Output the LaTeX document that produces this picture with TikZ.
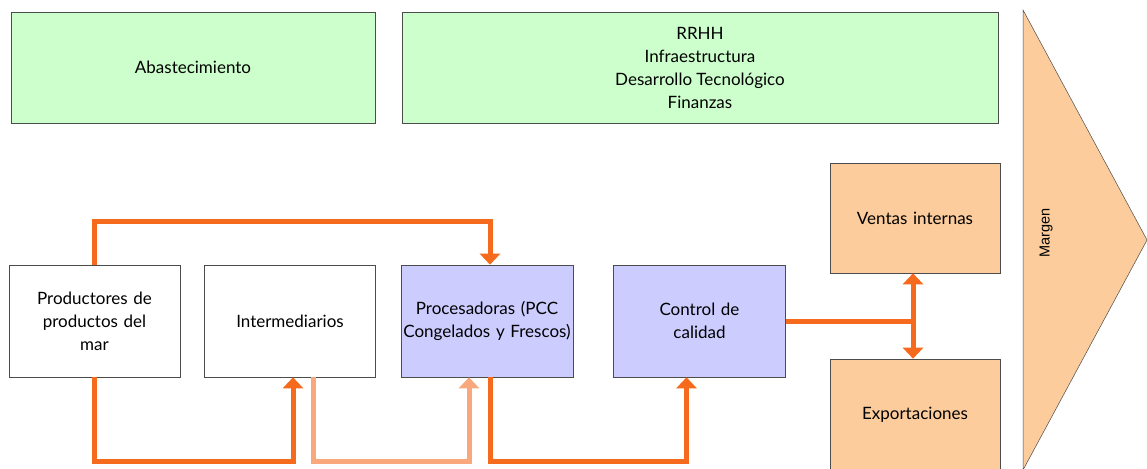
\documentclass[tikz,border=0pt]{standalone}
\usepackage{fontspec}
\setmainfont{Lato}
\newfontfamily\arialfont{Liberation Sans}
\usetikzlibrary{arrows.meta}
\definecolor{apoyo}{HTML}{CCFFCC}
\definecolor{proceso}{HTML}{CCCCFF}
\definecolor{salida}{HTML}{FCCC9C}
\definecolor{flecha}{HTML}{F56A1C}
\definecolor{flechaclara}{HTML}{F8A87C}

\tikzset{
  caja/.style={draw=gray!60!black, line width=0.6pt, align=center, inner sep=2pt,
    font=\fontsize{17}{23}\selectfont},
  apoyobox/.style={caja, fill=apoyo},
  blanca/.style={caja, fill=white, minimum width=171pt, minimum height=112pt, text width=160pt},
  procbox/.style={caja, fill=proceso, minimum width=171pt, minimum height=112pt, text width=168pt},
  salidabox/.style={caja, fill=salida, minimum width=170pt, minimum height=110pt, text width=160pt},
  flujo/.style={draw=flecha, line width=5pt, -{Triangle[width=20pt,length=11pt]}},
  flujoclaro/.style={flujo, draw=flechaclara, -{Triangle[width=20pt,length=11pt,fill=flechaclara]}}
}

\begin{document}
\begin{tikzpicture}[x=1pt,y=-1pt]
  \useasboundingbox (0,0) rectangle (1147,468);
  \fill[white] (0,0) rectangle (1147,468);
  % actividades de apoyo
  \node[apoyobox, minimum width=364pt, minimum height=111pt] (abas) at (193,67.5) {Abastecimiento};
  \node[apoyobox, minimum width=596pt, minimum height=111pt] (soporte) at (700,67.5)
    {RRHH\\Infraestructura\\Desarrollo Tecnológico\\Finanzas};
  % margen
  \draw[draw=gray!60!black, fill=salida, line width=0.5pt] (1023,10) -- (1147,240) -- (1023,470) -- cycle;
  \node[rotate=90, font=\arialfont\fontsize{14.5}{16}\selectfont] (margen) at (1046,233) {Margen};
  % cadena
  \node[blanca] (prod) at (94.5,321) {Productores de\\productos del\\mar};
  \node[blanca] (inter) at (290,321) {Intermediarios};
  \node[procbox] (proc) at (487,321) {Procesadoras (PCC\\Congelados y Frescos)};
  \node[procbox] (ctrl) at (699.5,321) {Control de\\calidad};
  \node[salidabox] (vent) at (915,218) {Ventas internas};
  \node[salidabox, minimum height=112pt] (expo) at (915,415) {Exportaciones};
  % flechas
  \draw[flujo] (prod.north) -- ++(0,-43) -| ([xshift=3pt]proc.north);
  \draw[flujo] (prod.south) -- ++(0,84) -| ([xshift=3pt]inter.south);
  \draw[flujoclaro] ([xshift=23pt]inter.south) -- ++(0,84) -| ([xshift=-18pt]proc.south);
  \draw[flujo] ([xshift=3pt]proc.south) -- ++(0,84) -| ([xshift=-13pt]ctrl.south);
  \coordinate (split) at ([xshift=-2pt]vent.south |- ctrl.east);
  \draw[flujo, -] (ctrl.east) -- (split);
  \draw[flujo, {Triangle[width=20pt,length=11pt]}-{Triangle[width=20pt,length=11pt]}]
    ([xshift=-2pt]vent.south) -- ([xshift=-2pt]expo.north);
\end{tikzpicture}
\end{document}
